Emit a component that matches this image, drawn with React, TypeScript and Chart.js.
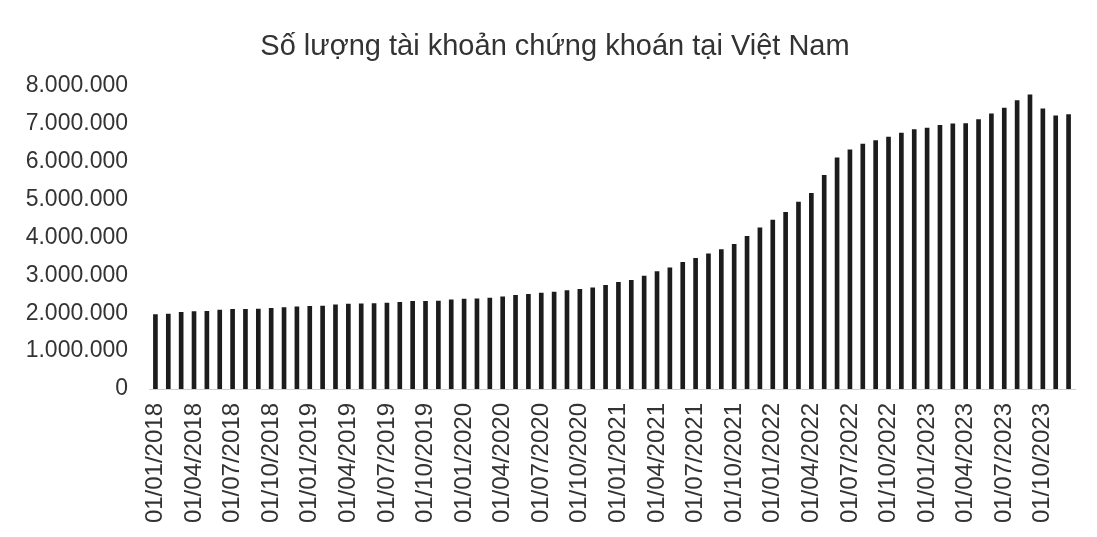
import React, { useEffect, useRef } from "react";
import { Chart, registerables } from "chart.js";

Chart.register(...registerables);

const titleText = "Số lượng tài khoản chứng khoán tại Việt Nam";

const years = [2018, 2019, 2020, 2021, 2022, 2023];
const months = ["01", "02", "03", "04", "05", "06", "07", "08", "09", "10", "11", "12"];
const categories: string[] = years.flatMap((y) => months.map((m) => `01/${m}/${y}`));

const accounts: number[] = [
  1966000, 1980000, 2020000, 2040000, 2050000, 2080000, 2100000, 2100000, 2110000, 2130000, 2150000, 2170000,
  2180000, 2190000, 2220000, 2240000, 2245000, 2255000, 2270000, 2290000, 2310000, 2310000, 2320000, 2350000,
  2370000, 2380000, 2400000, 2430000, 2470000, 2500000, 2530000, 2560000, 2600000, 2630000, 2670000, 2735000,
  2815000, 2870000, 2980000, 3100000, 3200000, 3340000, 3450000, 3565000, 3680000, 3820000, 4030000, 4250000,
  4460000, 4660000, 4935000, 5160000, 5640000, 6100000, 6310000, 6460000, 6555000, 6645000, 6750000, 6845000,
  6885000, 6955000, 6995000, 7005000, 7110000, 7260000, 7410000, 7610000, 7765000, 7390000, 7210000, 7240000,
];

const yMin = 0;
const yMax = 8000000;
const yStep = 1000000;

const formatVN = (v: number) => String(Math.round(v)).replace(/\B(?=(\d{3})+(?!\d))/g, ".");

export default function App() {
  const ref = useRef<HTMLCanvasElement | null>(null);

  useEffect(() => {
    if (!ref.current) return;
    const font = "'Liberation Sans', Arial, sans-serif";
    const chart = new Chart(ref.current, {
      type: "bar",
      data: {
        labels: categories,
        datasets: [
          {
            label: "Số tài khoản",
            data: accounts,
            backgroundColor: "#1c1c1c",
            barThickness: 4,
          },
        ],
      },
      options: {
        responsive: false,
        animation: false,
        maintainAspectRatio: false,
        layout: { padding: { left: 20, right: 7, top: 0, bottom: 0 } },
        plugins: {
          legend: { display: false },
          tooltip: { enabled: false },
          title: {
            display: true,
            text: titleText,
            color: "#333333",
            font: { family: font, size: 29, weight: "normal" },
            padding: { top: 30, bottom: 21 },
          },
        },
        scales: {
          x: {
            grid: { display: false, drawTicks: false },
            border: { display: true, color: "#cfcfcf", width: 1 },
            ticks: {
              autoSkip: false,
              maxRotation: 90,
              minRotation: 90,
              padding: 14,
              color: "#333333",
              font: { family: font, size: 24 },
              callback: (_v: any, i: number) => (i % 3 === 0 ? categories[i] : ""),
            },
            afterFit: (s: any) => {
              s.height = 148;
              s.paddingLeft = 0;
              s.paddingRight = 22;
            },
          },
          y: {
            min: yMin,
            max: yMax,
            grid: { display: false, drawTicks: false },
            border: { display: false },
            ticks: {
              stepSize: yStep,
              padding: 21,
              color: "#333333",
              font: { family: font, size: 23 },
              callback: (v: any) => formatVN(Number(v)),
            },
            afterFit: (s: any) => {
              s.width = 129;
            },
          },
        },
      },
    });
    return () => chart.destroy();
  }, []);

  return (
    <div style={{ position: "fixed", left: 0, top: 0, width: 1097, height: 537, background: "#ffffff" }}>
      <canvas ref={ref} width={1097} height={537} style={{ width: 1097, height: 537, display: "block" }} />
    </div>
  );
}
